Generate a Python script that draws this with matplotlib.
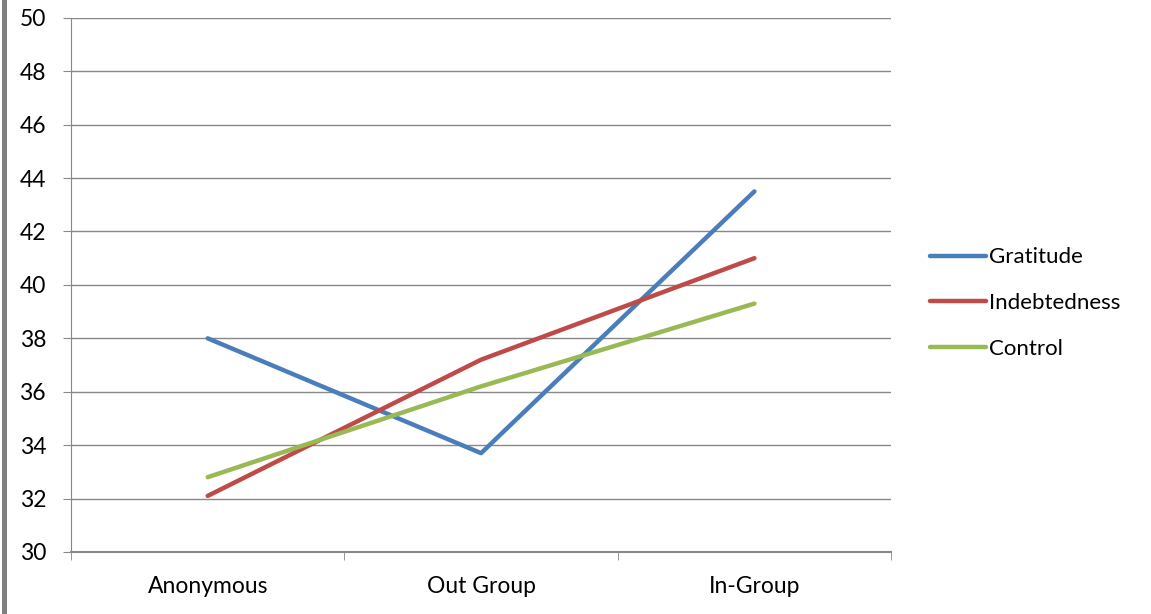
import matplotlib
matplotlib.use("Agg")
import matplotlib.pyplot as plt
from matplotlib.patches import Rectangle

plt.rcParams['font.family'] = ['Lato', 'DejaVu Sans']

categories = ["Anonymous", "Out Group", "In-Group"]
gratitude = [38.0, 33.7, 43.5]
indebtedness = [32.1, 37.2, 41.0]
control = [32.8, 36.2, 39.3]

series = [
    ("Gratitude", gratitude, "#4A7EBB"),
    ("Indebtedness", indebtedness, "#BE4B48"),
    ("Control", control, "#98B954"),
]

fig = plt.figure(figsize=(11.51, 6.14), dpi=100)
ax = fig.add_axes([0.0617, 0.101, 0.7125, 0.870])

x = range(len(categories))
for name, vals, color in series:
    ax.plot(x, vals, color=color, lw=3.2, label=name, solid_capstyle="round")

ax.set_ylim(30, 50)
ax.set_yticks(range(30, 51, 2))
ax.set_xlim(-0.5, len(categories) - 0.5)
ax.set_xticks(list(x))
ax.set_xticklabels(categories)
ax.set_xticks([i - 0.5 for i in range(len(categories) + 1)], minor=True)
ax.tick_params(axis="x", which="major", length=0, pad=17, labelsize=16.5)
ax.tick_params(axis="x", which="minor", length=6, color="#888888")
ax.tick_params(axis="y", length=6, color="#888888", labelsize=16.5, pad=12)

ax.grid(axis="y", color="#888888", lw=1)
ax.set_axisbelow(True)
for side in ("top", "right"):
    ax.spines[side].set_visible(False)
ax.spines["left"].set_color("#888888")
ax.spines["bottom"].set_color("#888888")
ax.spines["bottom"].set_linewidth(1.5)

fig.legend(loc="center left", bbox_to_anchor=(0.808, 0.5065), frameon=False,
           fontsize=16, handlelength=2.5, handletextpad=0.15, labelspacing=1.15,
           borderpad=0, borderaxespad=0)

# gray border strip on the left edge
fig.add_artist(Rectangle((0.002, 0), 0.004, 1, transform=fig.transFigure,
                         color="#808080", lw=0))

fig.savefig("out.png", dpi=100)
